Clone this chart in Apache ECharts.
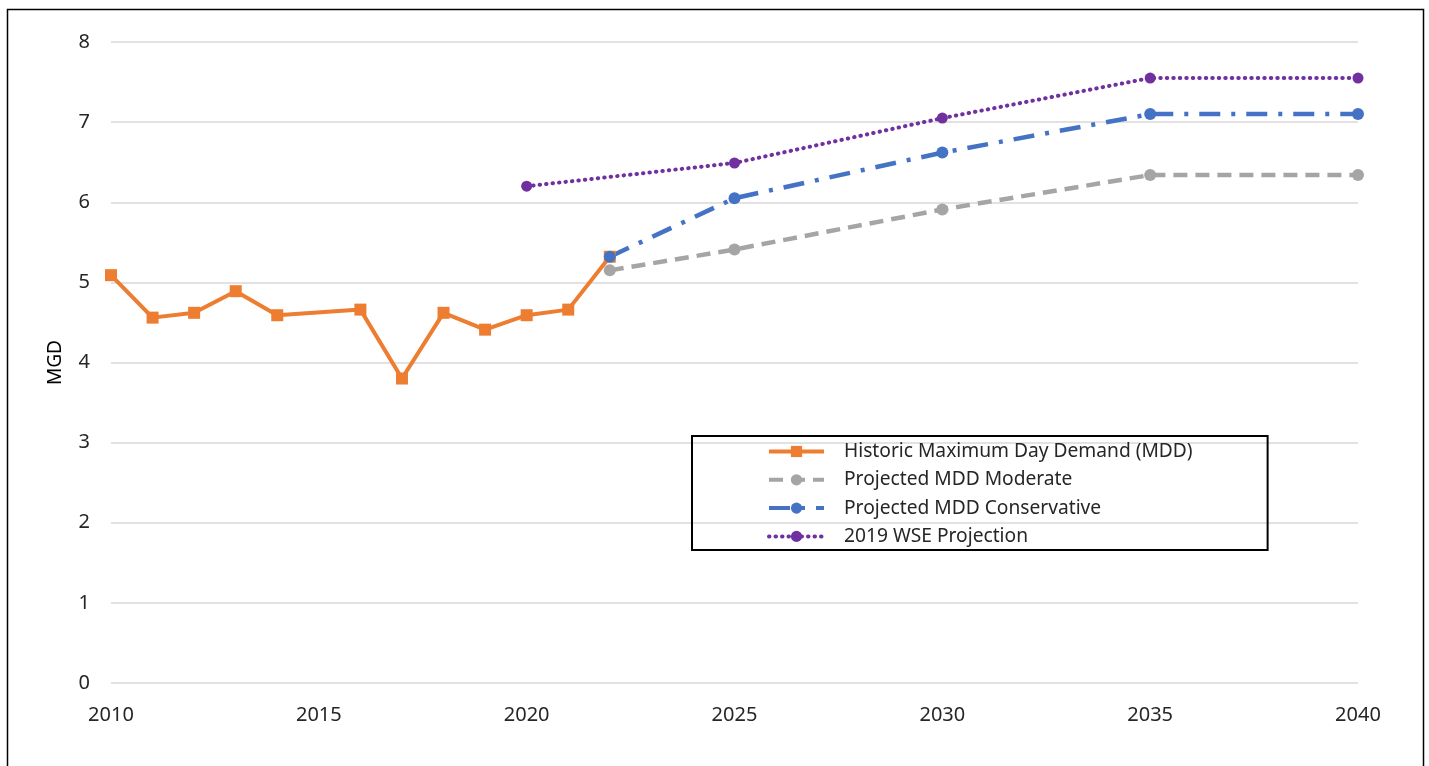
<!DOCTYPE html>
<html>
<head>
<meta charset="utf-8">
<script src="https://cdn.jsdelivr.net/npm/echarts@6/dist/echarts.min.js"></script>
<style>
html,body{margin:0;padding:0;background:#fff;}
#c{width:1429px;height:766px;}
</style>
</head>
<body>
<div id="c"></div>
<script>
var histYears = [2010, 2011, 2012, 2013, 2014, 2016, 2017, 2018, 2019, 2020, 2021, 2022];
var histValues = [5.09, 4.56, 4.62, 4.89, 4.59, 4.66, 3.80, 4.62, 4.41, 4.59, 4.66, 5.32];
var modYears = [2022, 2025, 2030, 2035, 2040];
var modValues = [5.15, 5.41, 5.91, 6.34, 6.34];
var consYears = [2022, 2025, 2030, 2035, 2040];
var consValues = [5.32, 6.05, 6.62, 7.10, 7.10];
var wseYears = [2020, 2025, 2030, 2035, 2040];
var wseValues = [6.20, 6.49, 7.05, 7.55, 7.55];
var seriesNames = ['Historic Maximum Day Demand (MDD)', 'Projected MDD Moderate', 'Projected MDD Conservative', '2019 WSE Projection'];
var yAxisName = 'MGD';

function pairs(xs, ys) { return xs.map(function (x, i) { return [x, ys[i]]; }); }

var font = 'Noto Sans';
var chart = echarts.init(document.getElementById('c'));
chart.setOption({
  animation: false,
  backgroundColor: '#fff',
  textStyle: { fontFamily: font },
  grid: { left: 111, right: 71, top: 42, bottom: 83 },
  graphic: [{
    type: 'rect', shape: { x: 7.5, y: 9.5, width: 1416, height: 780 },
    style: { fill: 'none', stroke: '#000', lineWidth: 1.5 }, silent: true, z: -1
  }],
  legend: {
    orient: 'vertical',
    left: 692, top: 436,
    padding: [6, 75, 4, 75],
    borderColor: '#000', borderWidth: 2,
    itemWidth: 55, itemHeight: 14, itemGap: 9.3,
    lineStyle: { width: 4 },
    textStyle: { fontFamily: font, fontSize: 19.2, color: '#262626', padding: [0, 0, 0, 15] },
    data: seriesNames
  },
  xAxis: {
    type: 'value', min: 2010, max: 2040, interval: 5,
    axisLine: { show: false }, axisTick: { show: false },
    splitLine: { show: false },
    axisLabel: { fontSize: 20, color: '#262626', margin: 22, fontFamily: font,
      formatter: function (v) { return String(v); } }
  },
  yAxis: {
    type: 'value', min: 0, max: 8, interval: 1,
    name: yAxisName, nameLocation: 'middle', nameGap: 46,
    nameTextStyle: { fontSize: 19, color: '#000', fontFamily: font },
    axisLine: { show: false }, axisTick: { show: false },
    splitLine: { lineStyle: { color: '#d9d9d9', width: 1.5 } },
    axisLabel: { fontSize: 20, color: '#262626', margin: 21, fontFamily: font }
  },
  series: [{
    name: seriesNames[0], type: 'line', data: pairs(histYears, histValues),
    symbol: 'rect', symbolSize: 12,
    itemStyle: { color: '#ed7d31' },
    lineStyle: { color: '#ed7d31', width: 4 }
  }, {
    name: seriesNames[1], type: 'line', data: pairs(modYears, modValues),
    symbol: 'circle', symbolSize: 12,
    itemStyle: { color: '#a5a5a5' },
    lineStyle: { color: '#a5a5a5', width: 4.5, type: [14, 8] }
  }, {
    name: seriesNames[2], type: 'line', data: pairs(consYears, consValues),
    symbol: 'circle', symbolSize: 12,
    itemStyle: { color: '#4472c4' },
    lineStyle: { color: '#4472c4', width: 4.5, type: [21, 11, 4, 11] }
  }, {
    name: seriesNames[3], type: 'line', data: pairs(wseYears, wseValues),
    symbol: 'circle', symbolSize: 11,
    itemStyle: { color: '#7030a0' },
    lineStyle: { color: '#7030a0', width: 4, type: [0.5, 6], cap: 'round' }
  }]
});
</script>
</body>
</html>
